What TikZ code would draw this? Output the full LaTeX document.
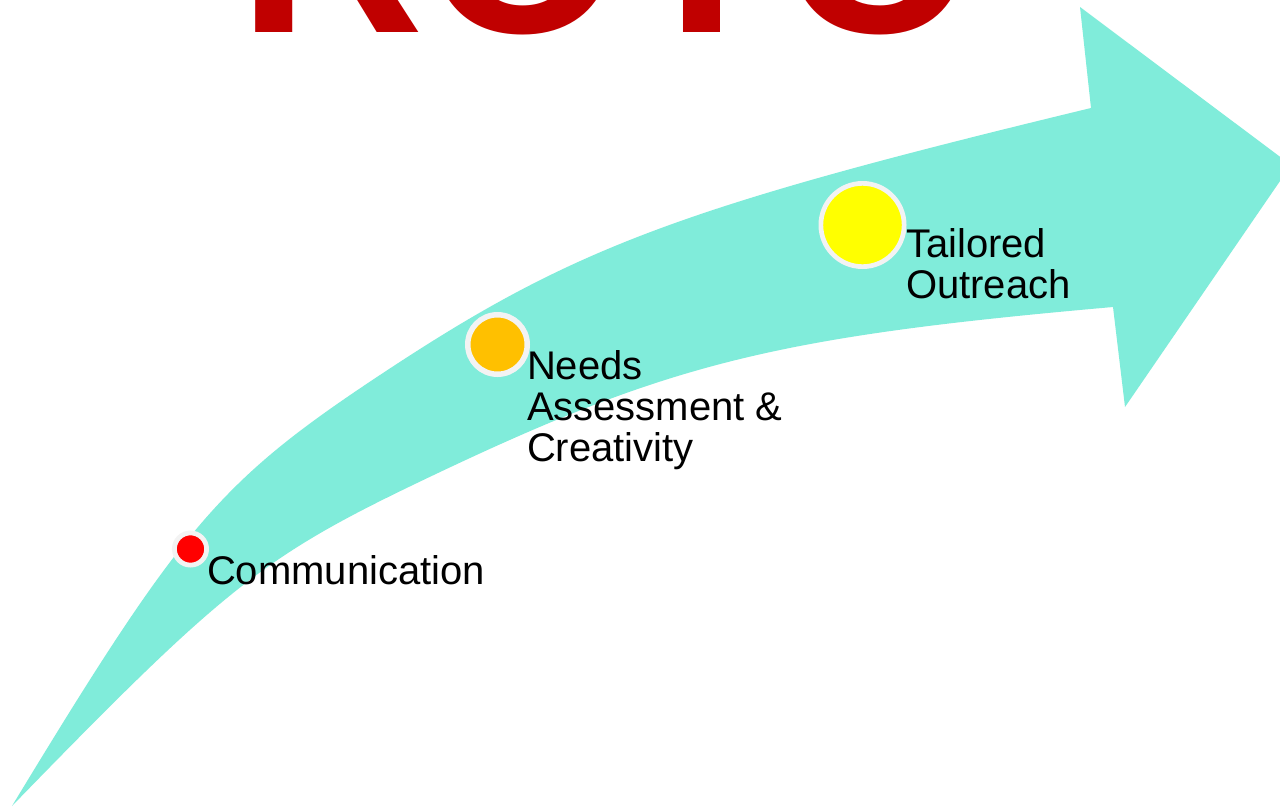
\documentclass[tikz,border=0pt]{standalone}
\usepackage{fontspec}
\setmainfont{Liberation Sans}
\definecolor{arrowteal}{RGB}{128,236,218}
\definecolor{titlered}{RGB}{192,0,0}
\definecolor{ringgray}{RGB}{243,243,243}
\definecolor{dotred}{RGB}{255,0,0}
\definecolor{dotorange}{RGB}{255,192,0}
\definecolor{dotyellow}{RGB}{255,255,0}
\begin{document}
\begin{tikzpicture}[x=1pt,y=-1pt,
  dot/.style={circle, draw=ringgray, inner sep=0pt, outer sep=0pt},
  lab/.style={inner sep=0pt, outer sep=0pt, align=left, font=\fontsize{40}{41}\selectfont, text=black}]
\useasboundingbox (0,0) rectangle (1280,807);
\clip (0,0) rectangle (1280,807);
\fill[white] (0,0) rectangle (1280,807);
% arrow body
\fill[arrowteal] (12,806) .. controls (183,523.9) and (220.1,480.6) .. (383,373)
  .. controls (573.4,247.2) and (679.6,207.5) .. (1091,108)
  -- (1080,7) -- (1291,165) -- (1125,407) -- (1113,307)
  .. controls (770.2,337.2) and (665.8,363.6) .. (417,483)
  .. controls (262.9,557) and (222.4,589.3) .. (12,806) -- cycle;
% title
\node[anchor=base west, inner sep=0pt, outer sep=0pt, text=titlered, font=\fontsize{257}{257}\selectfont\bfseries] (title) at (238,32) {ROTC};
% dots
\node[dot, fill=dotred, line width=4.8pt, minimum size=32.2pt] (d1) at (190.5,549) {};
\node[dot, fill=dotorange, line width=5.5pt, minimum size=59.5pt] (d2) at (497.5,344.5) {};
\node[dot, fill=dotyellow, line width=4.7pt, minimum size=83.3pt] (d3) at (862.5,225) {};
% labels
\node[lab, anchor=base west] (l1) at (207,584) {Communication};
\node[lab, anchor=north west] (l2) at (527,351) {Needs\\Assessment \&\\Creativity};
\node[lab, anchor=north west] (l3) at (906,229) {Tailored\\Outreach};
\end{tikzpicture}
\end{document}
